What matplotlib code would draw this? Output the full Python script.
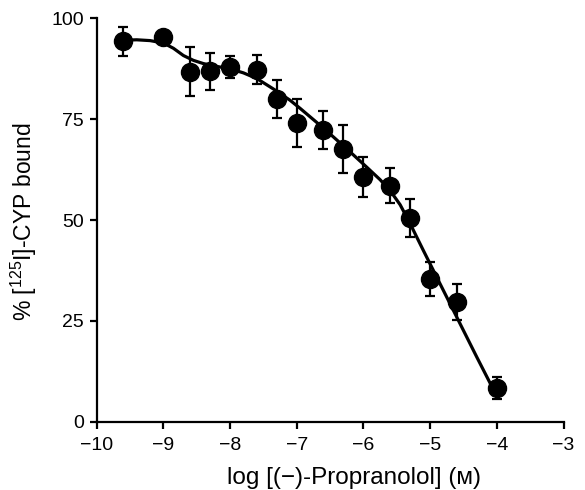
import matplotlib
matplotlib.use("Agg")
import matplotlib.pyplot as plt

plt.rcParams['font.family'] = ['Liberation Sans', 'DejaVu Sans']
plt.rcParams['mathtext.default'] = 'regular'

# Data points: log concentration, % bound, error
log_conc = [-9.6, -9.0, -8.6, -8.3, -8.0, -7.6, -7.3, -7.0,
            -6.6, -6.3, -6.0, -5.6, -5.3, -5.0, -4.6, -4.0]
pct_bound = [94.3, 95.3, 86.8, 86.9, 88.0, 87.3, 80.1, 74.1,
             72.3, 67.6, 60.7, 58.5, 50.4, 35.3, 29.7, 8.4]
err = [3.5, 0.8, 6.0, 4.6, 2.8, 3.6, 4.7, 5.9,
       4.7, 5.9, 5.0, 4.3, 4.7, 4.2, 4.4, 2.8]

# Fitted curve
curve_x = [-9.6, -9.4, -9.2, -9.0, -8.85, -8.7, -8.55, -8.4, -8.2, -8.0,
           -7.8, -7.6, -7.35, -7.1, -6.95, -6.7, -6.45, -6.2, -5.95,
           -5.75, -5.6, -5.45, -5.3, -5.1, -4.9, -4.6, -4.3, -4.0]
curve_y = [94.6, 94.7, 94.5, 93.9, 92.6, 90.8, 89.6, 88.8, 88.1, 87.5,
           86.5, 85.1, 82.5, 79.7, 77.7, 74.2, 70.6, 66.9, 63.1,
           60.0, 57.3, 53.8, 49.1, 42.4, 35.8, 25.9, 16.0, 6.3]

xticks = [-10, -9, -8, -7, -6, -5, -4, -3]
yticks = [0, 25, 50, 75, 100]

fig = plt.figure(figsize=(5.85, 4.9), dpi=100)
ax = fig.add_axes([0.1653, 0.1394, 0.798, 0.823])

ax.plot(curve_x, curve_y, color='black', lw=2.3, zorder=2)
ax.errorbar(log_conc, pct_bound, yerr=err, fmt='o', color='black',
            markersize=13, elinewidth=1.6, capsize=3.3, capthick=1.6, zorder=3)

ax.set_xlim(-10, -3)
ax.set_ylim(0, 100)
ax.set_xticks(xticks)
ax.set_yticks(yticks)
ax.set_xticklabels([f"\u2212{abs(v)}" for v in xticks])
ax.set_yticklabels([str(v) for v in yticks])

for s in ['top', 'right']:
    ax.spines[s].set_visible(False)
for s in ['left', 'bottom']:
    ax.spines[s].set_linewidth(1.6)
ax.tick_params(direction='out', length=5, width=1.6, labelsize=14)
ax.tick_params(axis='x', pad=6)
ax.tick_params(axis='y', pad=4)

ax.set_xlabel("log [(\u2212)-Propranolol] (\u1d0d)", fontsize=17.5)
ax.set_ylabel(r"% [$^{125}$I]-CYP bound", fontsize=16.5)
ax.xaxis.set_label_coords(0.551, -0.112)
ax.yaxis.set_label_coords(-0.123, 0.495)

fig.savefig("out.png", dpi=100)
